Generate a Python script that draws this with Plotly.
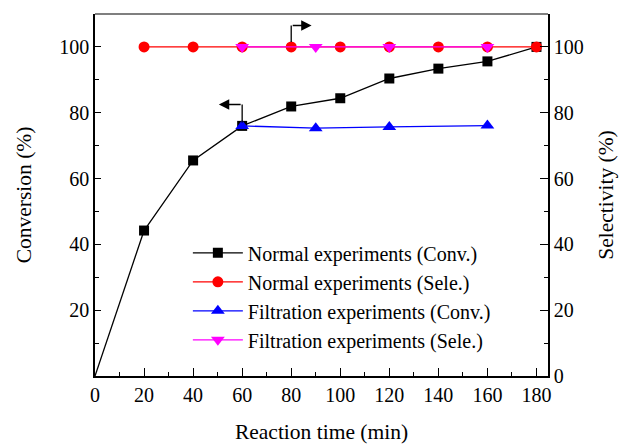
import plotly.graph_objects as go

# Data
normal_time = [0, 20, 40, 60, 80, 100, 120, 140, 160, 180]
normal_conv = [0, 44.2, 65.5, 76.0, 81.9, 84.4, 90.4, 93.4, 95.6, 100.0]
normal_sele_time = [20, 40, 60, 80, 100, 120, 140, 160, 180]
normal_sele = [100, 100, 100, 100, 100, 100, 100, 100, 100]
filt_time = [60, 90, 120, 160]
filt_conv = [76.0, 75.3, 75.7, 76.1]
filt_sele = [100, 100, 100, 100]

x_ticks = [0, 20, 40, 60, 80, 100, 120, 140, 160, 180]
left_ticks = [20, 40, 60, 80, 100]
right_ticks = [0, 20, 40, 60, 80, 100]

FONT = "Liberation Serif, DejaVu Serif, serif"

fig = go.Figure()
# segment from the origin (line only, no marker at 0)
fig.add_trace(go.Scatter(x=normal_time[:2], y=normal_conv[:2], mode="lines", showlegend=False,
                         line=dict(color="black", width=1.3), hoverinfo="skip"))
fig.add_trace(go.Scatter(x=normal_time[1:], y=normal_conv[1:], mode="lines+markers",
                         name="Normal experiments (Conv.)",
                         line=dict(color="black", width=1.3),
                         marker=dict(symbol="square", size=10, color="black")))
fig.add_trace(go.Scatter(x=normal_sele_time, y=normal_sele, mode="lines+markers",
                         name="Normal experiments (Sele.)", yaxis="y2",
                         line=dict(color="#ff0000", width=1.3),
                         marker=dict(symbol="circle", size=11, color="#ff0000")))
fig.add_trace(go.Scatter(x=filt_time, y=filt_conv, mode="lines+markers",
                         name="Filtration experiments (Conv.)",
                         line=dict(color="#0000ff", width=1.3),
                         marker=dict(symbol="triangle-up", size=12, color="#0000ff")))
fig.add_trace(go.Scatter(x=filt_time, y=filt_sele, mode="lines+markers",
                         name="Filtration experiments (Sele.)", yaxis="y2",
                         line=dict(color="#ff00ff", width=1.3),
                         marker=dict(symbol="triangle-down", size=12, color="#ff00ff")))

# Arrow indicators (L-shaped)
fig.add_shape(type="line", x0=60, x1=60, y0=77, y1=82.5, xref="x", yref="y",
              line=dict(color="black", width=1.3))
fig.add_annotation(x=50.5, y=82.5, ax=60, ay=82.5, xref="x", yref="y", axref="x", ayref="y",
                   showarrow=True, arrowhead=2, arrowsize=1.6, arrowwidth=1.3,
                   arrowcolor="black", text="", standoff=0, startstandoff=0)
fig.add_shape(type="line", x0=80, x1=80, y0=101.5, y1=106.5, xref="x", yref="y",
              line=dict(color="black", width=1.3))
fig.add_annotation(x=88.3, y=106.5, ax=80, ay=106.5, xref="x", yref="y", axref="x", ayref="y",
                   showarrow=True, arrowhead=2, arrowsize=1.6, arrowwidth=1.3,
                   arrowcolor="black", text="", standoff=0, startstandoff=0)

# Top border
fig.add_shape(type="line", x0=0, x1=1, y0=1, y1=1, xref="paper", yref="paper",
              line=dict(color="#555555", width=1.5))

fig.update_layout(
    width=624, height=444,
    margin=dict(l=95, r=76, t=14, b=68),
    paper_bgcolor="white", plot_bgcolor="white",
    font=dict(family=FONT, size=20, color="black"),
    showlegend=True,
    legend=dict(x=0.205, y=0.394, xanchor="left", yanchor="top",
                bgcolor="rgba(0,0,0,0)", font=dict(family=FONT, size=20),
                itemwidth=50, tracegroupgap=0),
    xaxis=dict(range=[0, 184.7], tickvals=x_ticks, ticks="inside", ticklen=8,
               tickwidth=1.2, tickcolor="black", showline=True, linecolor="black",
               linewidth=1.5, showgrid=False, zeroline=False, automargin=False,
               minor=dict(dtick=10, tick0=0, ticks="inside", ticklen=4, tickcolor="black", tickwidth=1.2),
               tickfont=dict(family=FONT, size=20),
               title=dict(text="Reaction time (min)", font=dict(family=FONT, size=21.5), standoff=22)),
    yaxis=dict(range=[0, 110], tickvals=left_ticks, ticks="inside", ticklen=6,
               tickwidth=1.2, tickcolor="black", showline=True, linecolor="black",
               linewidth=1.5, showgrid=False, zeroline=False, automargin=False,
               minor=dict(tickvals=[10, 30, 50, 70, 90], ticks="inside", ticklen=4, tickcolor="black", tickwidth=1.2),
               tickfont=dict(family=FONT, size=20),
               title=dict(text="Conversion (%)", font=dict(family=FONT, size=21.5), standoff=22)),
    yaxis2=dict(range=[0, 110], tickvals=right_ticks, ticks="inside", ticklen=8,
                tickwidth=1.2, tickcolor="black", showline=True, linecolor="black",
                linewidth=1.5, showgrid=False, zeroline=False, overlaying="y", side="right",
                automargin=False,
                minor=dict(tickvals=[10, 30, 50, 70, 90], ticks="inside", ticklen=4, tickcolor="black", tickwidth=1.2),
                tickfont=dict(family=FONT, size=20),
                title=dict(text="Selectivity (%)", font=dict(family=FONT, size=21.5), standoff=15)),
)

fig.write_html("out.html")
